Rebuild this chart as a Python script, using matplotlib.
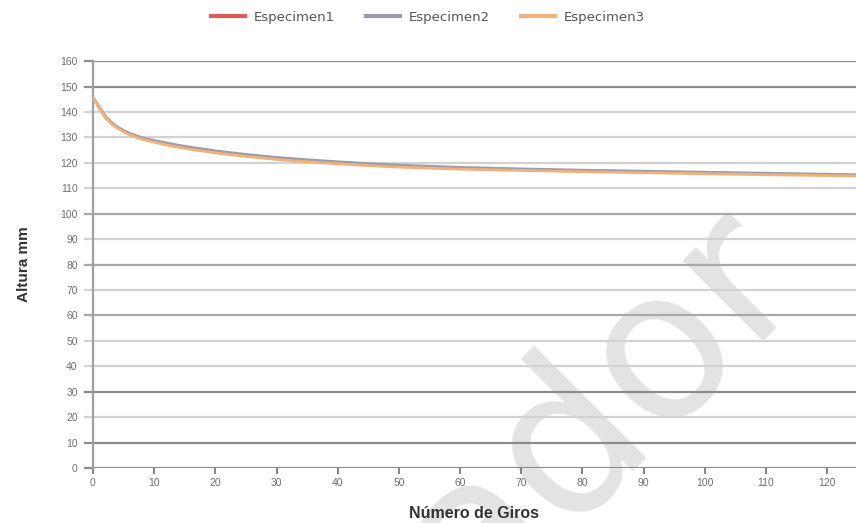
import matplotlib
matplotlib.use("Agg")
import matplotlib.pyplot as plt

# Gyratory compaction: specimen height (mm) versus number of gyrations
giros = [0, 1, 2, 3, 4, 5, 6, 7, 8, 9, 10, 12, 14, 16, 18, 20, 25, 30, 35,
         40, 45, 50, 60, 70, 80, 90, 100, 110, 120, 125]
especimen1 = [145.5, 141.8, 138.0, 135.6, 133.8, 132.4, 131.3, 130.4, 129.6,
              129.0, 128.4, 127.4, 126.5, 125.7, 125.0, 124.3, 122.9, 121.7,
              120.8, 120.0, 119.3, 118.7, 117.9, 117.3, 116.8, 116.4, 116.0,
              115.6, 115.3, 115.1]
especimen2 = [145.6, 142.0, 138.3, 135.9, 134.1, 132.7, 131.6, 130.7, 129.9,
              129.3, 128.8, 127.8, 126.9, 126.1, 125.4, 124.7, 123.3, 122.1,
              121.2, 120.4, 119.7, 119.1, 118.2, 117.6, 117.1, 116.7, 116.3,
              115.9, 115.5, 115.3]
especimen3 = [145.4, 141.6, 137.8, 135.4, 133.6, 132.2, 131.0, 130.1, 129.3,
              128.7, 128.1, 127.0, 126.1, 125.3, 124.6, 123.9, 122.5, 121.3,
              120.4, 119.6, 118.9, 118.3, 117.5, 117.0, 116.5, 116.1, 115.7,
              115.3, 115.0, 114.8]

series = [("Especimen1", especimen1, "#dc5a5a"),
          ("Especimen2", especimen2, "#9c9cac"),
          ("Especimen3", especimen3, "#f0b27a")]

x_ticks = list(range(0, 121, 10))
y_ticks = list(range(0, 161, 10))

# gridline shades per y level
grid_dark = "#8c8c8c"
grid_mid = "#a9a9a9"
grid_light = "#d2d2d2"
grid_shade = {160: grid_dark, 150: grid_dark, 140: grid_light, 130: grid_light,
              120: grid_light, 110: grid_light, 100: grid_mid, 90: grid_light,
              80: grid_mid, 70: grid_light, 60: grid_mid, 50: grid_light,
              40: grid_light, 30: grid_dark, 20: grid_light, 10: grid_dark,
              0: grid_dark}

plt.rcParams["font.family"] = ["Liberation Sans", "DejaVu Sans"]

fig = plt.figure(figsize=(8.56, 5.23), dpi=100)
ax = fig.add_axes([0.1086, 0.1052, 0.8914, 0.778])
ax.set_facecolor("none")

# watermark behind everything
fig.text(0.70, 0.215, "ador", fontsize=150, color="#e3e3e3", rotation=45,
         ha="center", va="center", family="DejaVu Sans", zorder=-5)

for yv in y_ticks:
    ax.axhline(yv, color=grid_shade[yv], lw=1.6, zorder=1)
    ax.plot([-1.3, 0], [yv, yv], color=grid_shade[yv], lw=1.6, zorder=1,
            clip_on=False)

for name, vals, col in series:
    ax.plot(giros, vals, color=col, lw=2.0, label=name, zorder=3)

ax.set_xlim(0, 124.7)
ax.set_ylim(0, 160)
ax.set_xticks(x_ticks)
ax.set_yticks(y_ticks)
ax.tick_params(axis="x", length=4, width=1.2, color="#707070",
               labelsize=7.5, labelcolor="#707070", pad=3)
ax.tick_params(axis="y", length=0, labelsize=7.5, labelcolor="#707070",
               pad=11)

for side in ["top", "right", "bottom"]:
    ax.spines[side].set_visible(False)
ax.spines["left"].set_color("#a0a0a0")
ax.spines["left"].set_linewidth(1.6)

ax.set_xlabel("Número de Giros", fontsize=11.5, fontweight="bold",
              color="#333333", labelpad=13)
ax.set_ylabel("Altura mm", fontsize=11, fontweight="bold",
              color="#333333", labelpad=21)

leg = fig.legend(loc="center", bbox_to_anchor=(0.5, 0.967), ncol=3,
                 frameon=False, prop={"family": "DejaVu Sans", "size": 9.5},
                 handlelength=2.6, columnspacing=2.3, handletextpad=0.7)
for line in leg.get_lines():
    line.set_linewidth(3)
for t in leg.get_texts():
    t.set_color("#555555")

fig.savefig("out.png", dpi=100)
